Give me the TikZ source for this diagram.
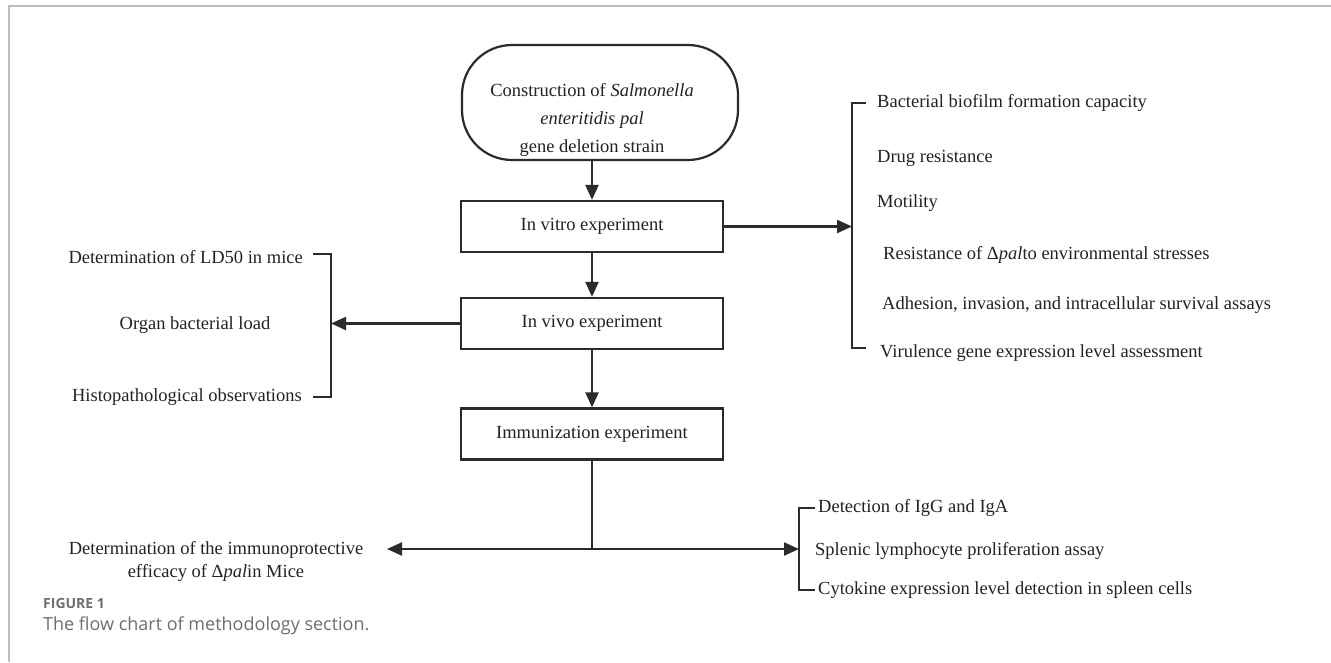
\documentclass[tikz,border=0pt]{standalone}
\usepackage{fontspec}
\setmainfont{Liberation Serif}
\newfontfamily\capfont{Open Sans}
\usetikzlibrary{arrows.meta}

\definecolor{linecol}{HTML}{2B2B2B}
\definecolor{textcol}{HTML}{222222}
\definecolor{framecol}{HTML}{BDBDBD}
\definecolor{capcol}{HTML}{6E6E6E}

\begin{document}
\begin{tikzpicture}[
    x=1pt, y=-1pt,
    every node/.style={text=textcol, font=\fontsize{18.5}{28}\selectfont},
    startbox/.style={draw=linecol, line width=2.2pt, rounded corners=50pt,
        minimum width=276pt, minimum height=115pt},
    stepbox/.style={draw=linecol, line width=2.2pt,
        minimum width=262pt, minimum height=51pt},
    item/.style={inner sep=0pt, anchor=west},
    edge/.style={draw=linecol, line width=2.2pt},
    arrow/.style={edge, -{Triangle[length=15pt, width=13pt]}}
]
    \useasboundingbox (0,0) rectangle (1331,662);
    % page frame
    \draw[framecol, line width=2pt] (9,662) -- (9,6) -- (1331,6);

    % main steps
    \node[startbox] (start) at (600,102.5) {};
    \node[align=center, inner sep=0pt] (startlabel) at (592,120)
        {Construction of \textit{Salmonella}\\ \textit{enteritidis pal}\\ gene deletion strain};
    \node[stepbox] (vitro) at (592,226.5) {In vitro experiment};
    \node[stepbox] (vivo) at (592,323.5) {In vivo experiment};
    \node[stepbox] (immun) at (592,434) {Immunization experiment};

    % in vitro assays
    \coordinate (rtop) at (852,103);
    \coordinate (rbot) at (852,348);
    \node[item] (biofilm) at (877,103) {Bacterial biofilm formation capacity};
    \node[item] (drug) at (877,158) {Drug resistance};
    \node[item] (motility) at (877,203) {Motility};
    \node[item] (stress) at (883,255) {Resistance of Δ\textit{pal}to environmental stresses};
    \node[item] (adhesion) at (882,305) {Adhesion, invasion, and intracellular survival assays};
    \node[item] (virulence) at (880,353) {Virulence gene expression level assessment};

    % in vivo assays
    \coordinate (ltop) at (331,254);
    \coordinate (lbot) at (331,397);
    \node[item, anchor=east] (ld50) at (303,257) {Determination of LD50 in mice};
    \node[inner sep=0pt] (load) at (195,325) {Organ bacterial load};
    \node[item, anchor=east] (histo) at (302,397) {Histopathological observations};

    % immunization assays
    \coordinate (split) at (592,549);
    \coordinate (ptip) at (387,549);
    \coordinate (btop) at (799,508);
    \coordinate (bbot) at (799,590);
    \node[align=center, inner sep=0pt, font=\fontsize{18.5}{23}\selectfont] (protect) at (216,561)
        {Determination of the immunoprotective\\ efficacy of Δ\textit{pal}in Mice};
    \node[item] (igg) at (818,508) {Detection of IgG and IgA};
    \node[item] (spleno) at (815,551) {Splenic lymphocyte proliferation assay};
    \node[item] (cyto) at (818,590) {Cytokine expression level detection in spleen cells};

    % caption
    \node[item, text=capcol, font=\capfont\bfseries\fontsize{14}{16}\selectfont] (fig) at (43,603) {FIGURE 1};
    \node[item, text=capcol, font=\capfont\fontsize{18}{20}\selectfont] (caption) at (43,626) {The flow chart of methodology section.};

    \draw[arrow] (start.south -| vitro.north) -- (vitro.north);
    \draw[arrow] (vitro) -- (vivo);
    \draw[arrow] (vivo) -- (immun);
    \draw[arrow] (vitro.east) -- (vitro.east -| rtop);
    \draw[edge] ([xshift=14pt]rtop) -- (rtop) -- (rbot) -- ([xshift=14pt]rbot);
    \draw[arrow] (vivo.west) -- (vivo.west -| ltop);
    \draw[edge] ([xshift=-18pt]ltop) -- (ltop) -- (lbot) -- ([xshift=-18pt]lbot);
    \draw[edge] (immun.south) -- (split);
    \draw[arrow] (split) -- (ptip);
    \draw[arrow] (split) -- (split -| btop);
    \draw[edge] ([xshift=16pt]btop) -- (btop) -- (bbot) -- ([xshift=16pt]bbot);
\end{tikzpicture}
\end{document}
